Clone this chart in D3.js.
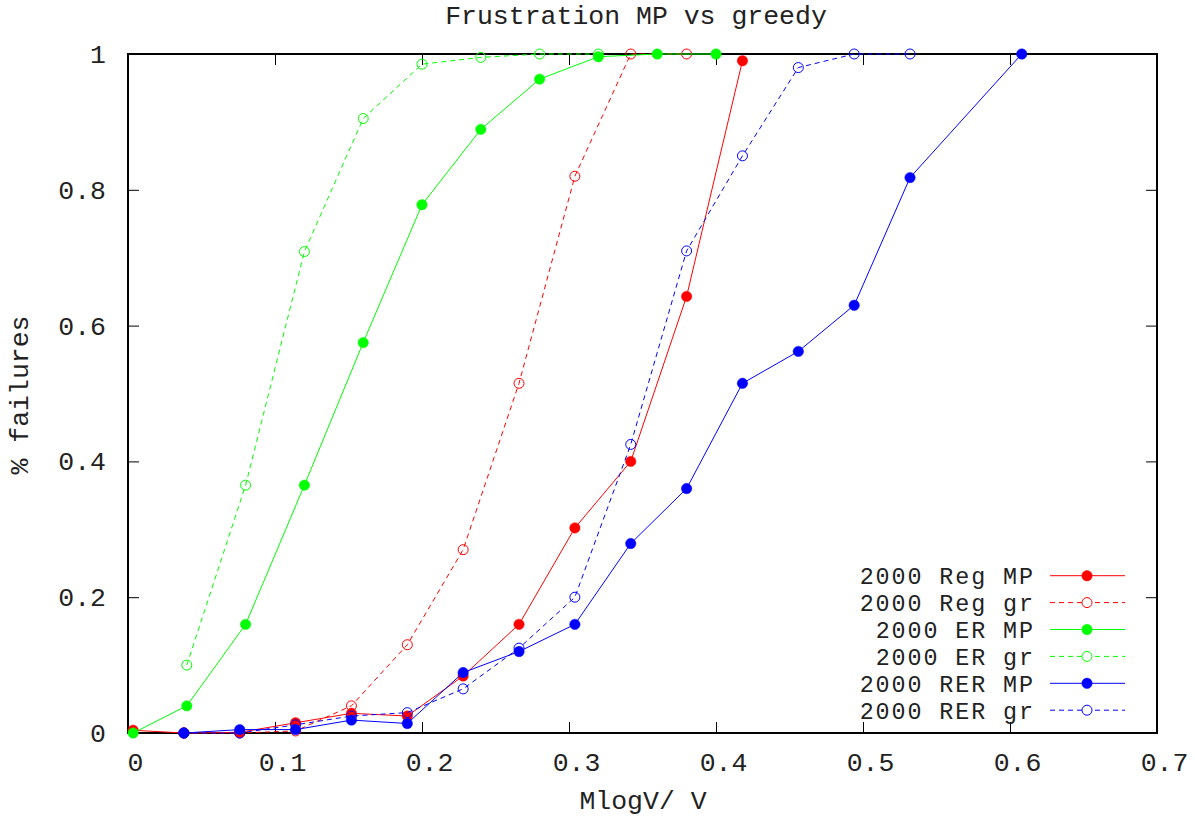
<!DOCTYPE html>
<html>
<head>
<meta charset="utf-8">
<script src="https://cdn.jsdelivr.net/npm/d3@7"></script>
<style>
  html, body { margin: 0; padding: 0; background: #fff; }
  svg { display: block; }
  text { font-family: "Liberation Mono", "DejaVu Sans Mono", monospace; fill: #222; }
</style>
</head>
<body>
<svg id="chart" width="1195" height="818"></svg>
<script>
// ---------- data ----------
const titleText = "Frustration MP vs greedy";
const xLabelText = "MlogV/ V";
const yLabelText = "% failures";

const xTicks = [0, 0.1, 0.2, 0.3, 0.4, 0.5, 0.6, 0.7];
const yTicks = [0, 0.2, 0.4, 0.6, 0.8, 1];

const seriesNames = ["2000 Reg MP", "2000 Reg gr", "2000 ER MP", "2000 ER gr", "2000 RER MP", "2000 RER gr"];
const seriesColors = ["#ff0000", "#ff0000", "#00ff00", "#00ff00", "#0000ff", "#0000ff"];
const seriesDashed = [false, true, false, true, false, true];
const seriesFilled = [true, false, true, false, true, false];

const regMPx = [0.0035, 0.038, 0.076, 0.114, 0.152, 0.19, 0.228, 0.266, 0.304, 0.342, 0.38, 0.418];
const regMPy = [0.004, 0.0, 0.001, 0.015, 0.029, 0.025, 0.084, 0.16, 0.302, 0.4, 0.643, 0.99];

const regGrx = [0.038, 0.076, 0.114, 0.152, 0.19, 0.228, 0.266, 0.304, 0.342, 0.38];
const regGry = [0.0, 0.0, 0.003, 0.04, 0.13, 0.27, 0.515, 0.82, 1.0, 1.0];

const erMPx = [0.0035, 0.04, 0.08, 0.12, 0.16, 0.2, 0.24, 0.28, 0.32, 0.36, 0.4];
const erMPy = [0.0, 0.04, 0.16, 0.365, 0.575, 0.778, 0.889, 0.963, 0.996, 1.0, 1.0];

const erGrx = [0.04, 0.08, 0.12, 0.16, 0.2, 0.24, 0.28, 0.32];
const erGry = [0.1, 0.365, 0.709, 0.905, 0.985, 0.995, 1.0, 1.0];

const rerMPx = [0.038, 0.076, 0.114, 0.152, 0.19, 0.228, 0.266, 0.304, 0.342, 0.38, 0.418, 0.456, 0.494, 0.532, 0.608];
const rerMPy = [0.0, 0.005, 0.005, 0.019, 0.014, 0.089, 0.12, 0.16, 0.279, 0.36, 0.515, 0.562, 0.63, 0.818, 1.0];

const rerGrx = [0.038, 0.076, 0.114, 0.152, 0.19, 0.228, 0.266, 0.304, 0.342, 0.38, 0.418, 0.456, 0.494, 0.532];
const rerGry = [0.0, 0.0, 0.012, 0.025, 0.03, 0.065, 0.125, 0.2, 0.425, 0.71, 0.85, 0.98, 1.0, 1.0];

const seriesX = [regMPx, regGrx, erMPx, erGrx, rerMPx, rerGrx];
const seriesY = [regMPy, regGry, erMPy, erGry, rerMPy, rerGry];

// ---------- layout ----------
const plotL = 128, plotR = 1157, plotT = 54, plotB = 733;
const fontSize = 26.5;
const legFont = 23.4;

const svg = d3.select("#chart");
const x = d3.scaleLinear().domain([0, 0.7]).range([plotL, plotR]);
const y = d3.scaleLinear().domain([0, 1]).range([plotB, plotT]);

const fmt = d => d3.format("")(d);

function styleAxis(g) {
  g.select(".domain").remove();
  g.selectAll(".tick line").attr("stroke", "#000").attr("stroke-width", 1);
  g.selectAll(".tick text").style("font-family", '"Liberation Mono", monospace')
    .style("font-size", fontSize + "px").attr("fill", "#222");
}

svg.append("g").attr("transform", `translate(0,${plotB})`)
  .call(d3.axisBottom(x).tickValues(xTicks).tickFormat(fmt).tickSize(-11).tickPadding(19))
  .call(styleAxis)
  .call(g => g.selectAll(".tick text").attr("dx", 7));

svg.append("g").attr("transform", `translate(0,${plotT})`)
  .call(d3.axisTop(x).tickValues(xTicks).tickFormat("").tickSize(-11))
  .call(styleAxis);

svg.append("g").attr("transform", `translate(${plotL},0)`)
  .call(d3.axisLeft(y).tickValues(yTicks).tickFormat(fmt).tickSize(-11).tickPadding(22))
  .call(styleAxis);

svg.append("g").attr("transform", `translate(${plotR},0)`)
  .call(d3.axisRight(y).tickValues(yTicks).tickFormat("").tickSize(-11))
  .call(styleAxis);

// frame
svg.append("rect")
  .attr("x", plotL).attr("y", plotT)
  .attr("width", plotR - plotL).attr("height", plotB - plotT)
  .attr("fill", "none").attr("stroke", "#000").attr("stroke-width", 2);

// titles
svg.append("text").attr("x", 636).attr("y", 24).attr("text-anchor", "middle")
  .style("font-size", fontSize + "px").text(titleText);
svg.append("text").attr("x", 643).attr("y", 809).attr("text-anchor", "middle")
  .style("font-size", fontSize + "px").text(xLabelText);
svg.append("text").attr("transform", "translate(28,395) rotate(-90)").attr("text-anchor", "middle")
  .style("font-size", fontSize + "px").text(yLabelText);

// series
const line = d3.line().x(d => x(d[0])).y(d => y(d[1]));
const plot = svg.append("g");

seriesNames.forEach((name, i) => {
  const pts = seriesX[i].map((xv, j) => [xv, seriesY[i][j]]);
  const g = plot.append("g");
  g.append("path").datum(pts)
    .attr("d", line)
    .attr("fill", "none")
    .attr("stroke", seriesColors[i])
    .attr("stroke-width", 1)
    .attr("stroke-dasharray", seriesDashed[i] ? "5,4" : null);
  g.selectAll("circle").data(pts).join("circle")
    .attr("cx", d => x(d[0])).attr("cy", d => y(d[1]))
    .attr("r", seriesFilled[i] ? 5.2 : 5)
    .attr("fill", seriesFilled[i] ? seriesColors[i] : "none")
    .attr("stroke", seriesColors[i])
    .attr("stroke-width", seriesFilled[i] ? 0.5 : 1);
});

// legend
const leg = svg.append("g");
const legY0 = 575.7, legDY = 26.9;
seriesNames.forEach((name, i) => {
  const yy = legY0 + i * legDY;
  leg.append("text").attr("x", 1035).attr("y", yy + 8.5).attr("text-anchor", "end")
    .style("font-size", legFont + "px").style("letter-spacing", "1.9px")
    .style("white-space", "pre").text(name);
  leg.append("line").attr("x1", 1050).attr("x2", 1125).attr("y1", yy).attr("y2", yy)
    .attr("stroke", seriesColors[i]).attr("stroke-width", 1)
    .attr("stroke-dasharray", seriesDashed[i] ? "5,4" : null);
  leg.append("circle").attr("cx", 1087).attr("cy", yy)
    .attr("r", seriesFilled[i] ? 5.2 : 5)
    .attr("fill", seriesFilled[i] ? seriesColors[i] : "white")
    .attr("stroke", seriesColors[i]).attr("stroke-width", seriesFilled[i] ? 0.5 : 1);
});
</script>
</body>
</html>
